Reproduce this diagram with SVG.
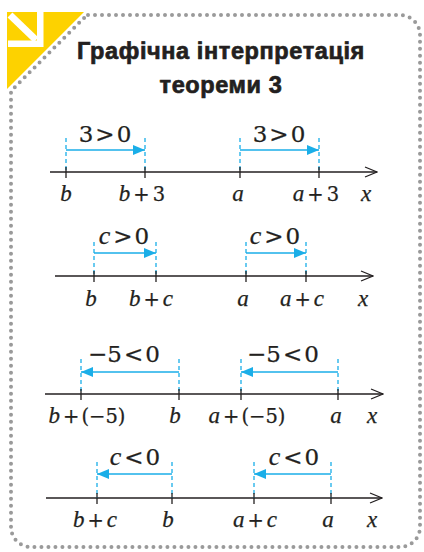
<svg xmlns="http://www.w3.org/2000/svg" width="424" height="552" viewBox="0 0 424 552">
<defs>
<style>
.bg{fill:#ffffff}
.frame{fill:none;stroke:#9a9a9a;stroke-width:4;stroke-linecap:round;stroke-dasharray:0 7}
.title{font-family:"Liberation Sans",Arial,sans-serif;font-weight:bold;font-size:23.5px;letter-spacing:0.6px;fill:#231f20;stroke:#231f20;stroke-width:0.7;text-anchor:middle}
.axis{stroke:#231f20;stroke-width:1.3;fill:none}
.tick{stroke:#231f20;stroke-width:1.3}
.guide{stroke:#1aaee8;stroke-width:1.3;stroke-dasharray:4 3}
.vec{stroke:#1aaee8;stroke-width:1.6;fill:none}
.lbl{font-family:"DejaVu Serif","Liberation Serif",serif;font-size:19.5px;fill:#231f20;stroke:#231f20;stroke-width:0.25;text-anchor:middle}
.top{font-size:23px}
.i{font-family:"Liberation Serif","Times New Roman",serif;font-style:italic;font-size:23px}
.top .i{font-size:26px}
</style>
<marker id="open" viewBox="0 0 14 12" refX="13" refY="6" markerWidth="14" markerHeight="12" markerUnits="userSpaceOnUse" orient="auto">
<path d="M1 1 L13 6 L1 11" fill="none" stroke="#231f20" stroke-width="1.3"/>
</marker>
<marker id="fill" viewBox="0 0 12 10" refX="12" refY="5" markerWidth="12" markerHeight="10" markerUnits="userSpaceOnUse" orient="auto">
<path d="M0 0 L12 5 L0 10 Z" fill="#1aaee8"/>
</marker>
</defs>
<rect class="bg" x="0" y="0" width="424" height="552"/>
<g id="badge">
<polygon points="7,12 84,12 7,89" fill="#fdd200"/>
<line x1="10" y1="15" x2="36" y2="40" stroke="#ffffff" stroke-width="7"/>
<polygon points="37,12 43.5,12 43.5,47 8,47 8,40.5 37,40.5" fill="#ffffff"/>
</g>
<path id="frame" class="frame" d="M88 15 H400 A20 20 0 0 1 420 35 V527 A20 20 0 0 1 400 547 H31 A20 20 0 0 1 11 527 V91 L87 15"/>
<g id="title">
<text class="title" x="221" y="59">Графічна інтерпретація</text>
<text class="title" x="221" y="93">теореми 3</text>
</g>
<g id="connectors">
<line class="axis" x1="50" y1="172" x2="377" y2="172" marker-end="url(#open)"/>
<line class="axis" x1="55" y1="276" x2="373" y2="276" marker-end="url(#open)"/>
<line class="axis" x1="45" y1="394" x2="383" y2="394" marker-end="url(#open)"/>
<line class="axis" x1="46" y1="498" x2="382" y2="498" marker-end="url(#open)"/>
<line class="vec" x1="66" y1="150" x2="145" y2="150" marker-end="url(#fill)"/>
<line class="vec" x1="240" y1="150" x2="319" y2="150" marker-end="url(#fill)"/>
<line class="vec" x1="94" y1="253" x2="156" y2="253" marker-end="url(#fill)"/>
<line class="vec" x1="246" y1="253" x2="306" y2="253" marker-end="url(#fill)"/>
<line class="vec" x1="179" y1="372" x2="81" y2="372" marker-end="url(#fill)"/>
<line class="vec" x1="338" y1="372" x2="241" y2="372" marker-end="url(#fill)"/>
<line class="vec" x1="172" y1="474" x2="97" y2="474" marker-end="url(#fill)"/>
<line class="vec" x1="331" y1="474" x2="254" y2="474" marker-end="url(#fill)"/>
</g>
<g id="line1">
<g class="guide"><line x1="66" y1="138" x2="66" y2="172"/><line x1="145" y1="138" x2="145" y2="172"/><line x1="240" y1="138" x2="240" y2="172"/><line x1="319" y1="138" x2="319" y2="172"/></g>
<g class="tick"><line x1="66" y1="167" x2="66" y2="178"/><line x1="145" y1="167" x2="145" y2="178"/><line x1="240" y1="167" x2="240" y2="178"/><line x1="319" y1="167" x2="319" y2="178"/></g>
<text class="lbl top" x="105" y="142">3<tspan dx="2">&gt;</tspan><tspan dx="2">0</tspan></text>
<text class="lbl top" x="279" y="142">3<tspan dx="2">&gt;</tspan><tspan dx="2">0</tspan></text>
<text class="lbl" y="201"><tspan class="i" x="66">b</tspan></text>
<text class="lbl" x="142" y="201"><tspan class="i">b</tspan><tspan dx="3">+</tspan><tspan dx="3">3</tspan></text>
<text class="lbl" y="201"><tspan class="i" x="238">a</tspan></text>
<text class="lbl" x="316" y="201"><tspan class="i">a</tspan><tspan dx="3">+</tspan><tspan dx="3">3</tspan></text>
<text class="lbl" y="201"><tspan class="i" x="366">x</tspan></text>
</g>
<g id="line2">
<g class="guide"><line x1="94" y1="242" x2="94" y2="276"/><line x1="156" y1="242" x2="156" y2="276"/><line x1="246" y1="242" x2="246" y2="276"/><line x1="306" y1="242" x2="306" y2="276"/></g>
<g class="tick"><line x1="94" y1="271" x2="94" y2="282"/><line x1="156" y1="271" x2="156" y2="282"/><line x1="246" y1="271" x2="246" y2="282"/><line x1="306" y1="271" x2="306" y2="282"/></g>
<text class="lbl top" x="124" y="244"><tspan class="i">c</tspan><tspan dx="3">&gt;</tspan><tspan dx="2">0</tspan></text>
<text class="lbl top" x="275" y="244"><tspan class="i">c</tspan><tspan dx="3">&gt;</tspan><tspan dx="2">0</tspan></text>
<text class="lbl" y="306"><tspan class="i" x="91">b</tspan></text>
<text class="lbl" x="151" y="306"><tspan class="i">b</tspan><tspan dx="3">+</tspan><tspan class="i" dx="3">c</tspan></text>
<text class="lbl" y="306"><tspan class="i" x="243">a</tspan></text>
<text class="lbl" x="302" y="306"><tspan class="i">a</tspan><tspan dx="3">+</tspan><tspan class="i" dx="3">c</tspan></text>
<text class="lbl" y="306"><tspan class="i" x="363">x</tspan></text>
</g>
<g id="line3">
<g class="guide"><line x1="81" y1="359" x2="81" y2="394"/><line x1="179" y1="359" x2="179" y2="394"/><line x1="241" y1="359" x2="241" y2="394"/><line x1="338" y1="359" x2="338" y2="394"/></g>
<g class="tick"><line x1="81" y1="389" x2="81" y2="400"/><line x1="179" y1="389" x2="179" y2="400"/><line x1="241" y1="389" x2="241" y2="400"/><line x1="338" y1="389" x2="338" y2="400"/></g>
<text class="lbl top" x="124" y="362">−5<tspan dx="2">&lt;</tspan><tspan dx="2">0</tspan></text>
<text class="lbl top" x="283" y="362">−5<tspan dx="2">&lt;</tspan><tspan dx="2">0</tspan></text>
<text class="lbl" x="87" y="423"><tspan class="i">b</tspan><tspan dx="3">+</tspan><tspan dx="2">(−5)</tspan></text>
<text class="lbl" y="423"><tspan class="i" x="175">b</tspan></text>
<text class="lbl" x="247" y="423"><tspan class="i">a</tspan><tspan dx="3">+</tspan><tspan dx="2">(−5)</tspan></text>
<text class="lbl" y="423"><tspan class="i" x="336">a</tspan></text>
<text class="lbl" y="423"><tspan class="i" x="372">x</tspan></text>
</g>
<g id="line4">
<g class="guide"><line x1="97" y1="462" x2="97" y2="498"/><line x1="172" y1="462" x2="172" y2="498"/><line x1="254" y1="462" x2="254" y2="498"/><line x1="331" y1="462" x2="331" y2="498"/></g>
<g class="tick"><line x1="97" y1="493" x2="97" y2="504"/><line x1="172" y1="493" x2="172" y2="504"/><line x1="254" y1="493" x2="254" y2="504"/><line x1="331" y1="493" x2="331" y2="504"/></g>
<text class="lbl top" x="135" y="465"><tspan class="i">c</tspan><tspan dx="3">&lt;</tspan><tspan dx="2">0</tspan></text>
<text class="lbl top" x="294" y="465"><tspan class="i">c</tspan><tspan dx="3">&lt;</tspan><tspan dx="2">0</tspan></text>
<text class="lbl" x="95" y="527"><tspan class="i">b</tspan><tspan dx="3">+</tspan><tspan class="i" dx="3">c</tspan></text>
<text class="lbl" y="527"><tspan class="i" x="168">b</tspan></text>
<text class="lbl" x="255" y="527"><tspan class="i">a</tspan><tspan dx="3">+</tspan><tspan class="i" dx="3">c</tspan></text>
<text class="lbl" y="527"><tspan class="i" x="328">a</tspan></text>
<text class="lbl" y="527"><tspan class="i" x="372">x</tspan></text>
</g>
</svg>
